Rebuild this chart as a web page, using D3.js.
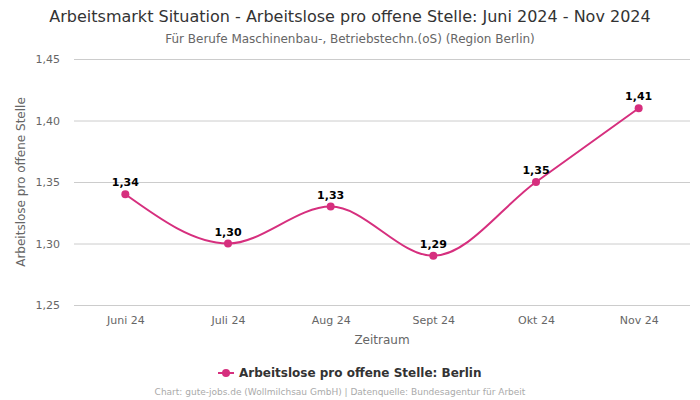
<!DOCTYPE html>
<html><head><meta charset="utf-8">
<script src="https://cdn.jsdelivr.net/npm/d3@7"></script>
<style>body{margin:0;background:#fff;font-family:"DejaVu Sans",sans-serif;}</style>
</head><body><svg id="c" width="700" height="400"></svg>
<script>
const categories = ["Juni 24","Juli 24","Aug 24","Sept 24","Okt 24","Nov 24"];
const values = [1.34,1.30,1.33,1.29,1.35,1.41];
const yTicks = [1.25,1.30,1.35,1.40,1.45];
const seriesName = "Arbeitslose pro offene Stelle: Berlin";
const color = "#d62f7e";
const fmt = v => v.toFixed(2).replace(".", ",");

const svg = d3.select("#c");
const m = {l:74, r:690, t:59, b:305};
const x = d3.scalePoint().domain(categories).range([m.l, m.r]).padding(0.5);
const y = d3.scaleLinear().domain([1.25,1.45]).range([m.b, m.t]);

svg.append("text").attr("x",350).attr("y",22).attr("text-anchor","middle")
  .attr("font-size",16).attr("fill","#333").text("Arbeitsmarkt Situation - Arbeitslose pro offene Stelle: Juni 2024 - Nov 2024");
svg.append("text").attr("x",350).attr("y",43).attr("text-anchor","middle")
  .attr("font-size",12).attr("fill","#666").text("Für Berufe Maschinenbau-, Betriebstechn.(oS) (Region Berlin)");

const ya = svg.append("g").attr("transform",`translate(${m.l},0)`)
  .call(d3.axisLeft(y).tickValues(yTicks).tickSize(-(m.r-m.l)).tickFormat(fmt));
ya.select(".domain").remove();
ya.selectAll("line").attr("stroke","#ccc");
ya.selectAll("text").attr("x",-14).attr("font-size",11).attr("fill","#666").attr("font-family","DejaVu Sans");

const xa = svg.append("g").attr("transform",`translate(0,${m.b})`)
  .call(d3.axisBottom(x).tickSize(0));
xa.select(".domain").remove();
xa.selectAll("text").attr("dy","1.45em").attr("font-size",11).attr("fill","#666").attr("font-family","DejaVu Sans");

svg.append("text").attr("x",(m.l+m.r)/2).attr("y",344).attr("text-anchor","middle")
  .attr("font-size",12).attr("fill","#666").text("Zeitraum");
svg.append("text").attr("transform",`translate(25,${(m.t+m.b)/2}) rotate(-90)`).attr("text-anchor","middle")
  .attr("font-size",12).attr("fill","#666").text("Arbeitslose pro offene Stelle");

const data = categories.map((c,i)=>({c, v: values[i]}));
svg.append("path").datum(data)
  .attr("d", d3.line().x(d=>x(d.c)).y(d=>y(d.v)).curve(d3.curveMonotoneX))
  .attr("fill","none").attr("stroke",color).attr("stroke-width",2);
svg.selectAll("circle.p").data(data).enter().append("circle")
  .attr("cx",d=>x(d.c)).attr("cy",d=>y(d.v)).attr("r",4).attr("fill",color);
svg.selectAll("text.l").data(data).enter().append("text")
  .attr("x",d=>x(d.c)).attr("y",d=>y(d.v)-8).attr("text-anchor","middle")
  .attr("font-size",11).attr("font-weight","bold").attr("fill","#000").text(d=>fmt(d.v));

const lg = svg.append("g");
lg.append("line").attr("x1",218).attr("x2",234).attr("y1",373).attr("y2",373).attr("stroke",color).attr("stroke-width",2);
lg.append("circle").attr("cx",226).attr("cy",373).attr("r",4).attr("fill",color);
lg.append("text").attr("x",239).attr("y",377).attr("font-size",12).attr("font-weight","bold").attr("fill","#333").text(seriesName);

svg.append("text").attr("x",340).attr("y",395).attr("text-anchor","middle")
  .attr("font-size",9).attr("fill","#aaa").text("Chart: gute-jobs.de (Wollmilchsau GmbH) | Datenquelle: Bundesagentur für Arbeit");
</script></body></html>
